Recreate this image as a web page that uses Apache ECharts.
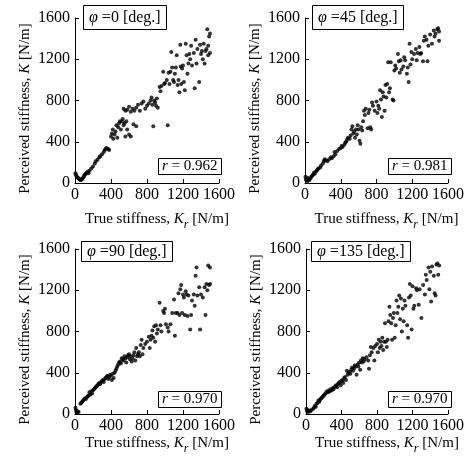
<!DOCTYPE html>
<html>
<head>
<meta charset="utf-8">
<script src="https://cdn.jsdelivr.net/npm/echarts@6/dist/echarts.min.js"></script>
<style>
  html, body { margin: 0; padding: 0; background: #fff; }
  #chart { width: 467px; height: 460px; }
</style>
</head>
<body>
<div id="chart"></div>
<script>
  // 散布図の元データ [True stiffness Kr, Perceived stiffness K]
  const phi0Points = [
    [5,95],[10,80],[15,70],[20,60],[30,50],[40,45],[45,38],[55,35],[60,30],[70,32],
    [80,38],[85,45],[95,55],[100,70],[110,80],[120,90],[130,100],[140,110],[150,95],[160,120],
    [180,140],[200,160],[220,190],[230,210],[250,225],[270,250],[280,260],[300,280],[320,300],[330,320],
    [340,330],[350,340],[370,330],[380,320],
    [400,450],[410,480],[420,520],[425,430],[440,470],[450,500],[460,560],[470,440],[480,540],[490,580],
    [500,600],[510,520],[520,600],[530,620],[540,560],[550,580],[560,450],[570,600],[580,520],[600,470],[620,450],
    [540,720],[560,700],[580,710],[600,740],[620,690],[640,720],[660,700],[680,730],[650,570],[680,550],
    [700,760],[720,700],[740,770],[760,790],[780,720],[800,750],[820,770],[840,800],[850,830],[860,760],
    [880,800],[890,780],[900,750],[910,820],[920,730],[870,550],[1030,560],
    [940,930],[950,890],[960,940],[980,1080],[990,960],[1000,970],[1020,1000],[1040,1070],[1050,960],[1060,1080],
    [1070,1270],[1080,1120],[1090,1000],[1100,980],
    [1110,1060],[1120,1120],[1130,1240],[1140,950],[1150,1000],[1160,880],[1170,1340],[1175,1130],[1180,960],[1190,1110],
    [1200,1140],[1210,980],[1220,900],[1230,1350],[1240,1240],[1250,1060],[1260,1160],[1270,1250],[1280,1200],[1290,1330],[1300,1140],
    [1320,1260],[1330,920],[1340,1390],[1350,1160],[1360,1300],[1380,980],[1390,1340],[1400,1250],[1410,1280],[1420,1200],
    [1430,1350],[1440,1160],[1450,1280],[1460,1300],[1470,1490],[1480,1240],[1490,1420],[1500,1450],[1500,1260],[1480,1330]
  ];

  const phi45Points = [
    [5,60],[10,40],[15,25],[25,50],[30,20],[40,35],[50,30],[60,45],[70,60],[80,70],
    [90,80],[100,100],[110,90],[120,110],[130,120],[140,130],[150,140],[170,150],[180,170],[200,190],
    [210,210],[220,230],[230,220],[250,210],[270,230],[290,250],[300,240],[320,260],[330,300],[340,280],
    [360,310],[380,330],[400,340],[410,360],[420,350],[440,370],[450,390],[460,400],[470,420],[480,440],
    [500,430],[510,460],[520,520],[530,550],[540,480],[550,500],[560,440],[570,520],[580,470],[590,560],
    [600,520],[610,410],[620,380],[630,540],[640,510],[650,600],[660,700],[670,660],[680,720],[700,530],
    [710,680],[720,710],[730,540],[740,520],[750,780],[760,750],[780,700],[800,790],[810,680],[820,750],
    [830,720],[840,900],[850,810],[860,640],[870,880],[880,840],[890,700],[900,950],[910,830],[920,960],
    [930,1170],[940,880],[950,920],[960,1170],[980,810],[990,800],[1000,1090],[1010,1140],[1020,1110],[1040,1250],
    [1050,1180],[1060,1070],[1070,1190],[1080,1100],[1100,1130],[1110,1220],[1120,1190],[1140,1060],[1150,1120],[1160,980],
    [1170,1350],[1180,1150],[1190,1270],[1200,1200],[1220,1250],[1240,1300],[1250,1190],[1260,1260],[1280,1320],[1290,1250],
    [1300,1260],[1320,1180],[1330,1380],[1340,1420],[1360,1390],[1370,1180],[1380,1330],[1400,1440],[1420,1350],[1440,1480],
    [1450,1420],[1460,1450],[1480,1490],[1490,1500],[1500,1380],[1500,1470]
  ];

  const phi90Points = [
    [5,60],[10,40],[15,20],[20,30],[25,10],[30,25],[40,20],
    [60,100],[70,110],[80,120],[90,130],[100,140],[110,150],[120,145],[130,160],[140,170],[150,180],
    [160,210],[170,190],[180,220],[190,200],[200,230],[210,240],[220,250],[230,260],[240,270],[250,280],
    [260,290],[270,300],[280,290],[290,310],[300,320],[310,330],[320,310],[330,340],[340,350],[350,360],
    [360,370],[370,340],[380,360],[390,380],[400,370],[410,330],[420,390],[430,350],[440,400],[450,420],
    [460,440],[470,460],[480,480],[490,500],[500,510],[510,490],[520,540],[530,530],[540,520],[550,560],
    [560,540],[570,500],[580,550],[590,570],[600,580],[610,530],[620,560],[630,510],[640,540],[650,570],
    [660,600],[670,520],[680,640],[690,560],[700,580],[710,600],[720,560],[730,670],[740,720],[750,580],
    [760,640],[780,680],[800,700],[820,750],[830,640],[840,720],[850,760],[860,810],[870,740],[880,850],
    [890,700],[900,860],[910,780],[920,820],[940,1080],[950,860],[960,800],[980,1000],[990,980],[1000,1020],
    [1010,870],[1030,840],[1040,800],[1060,870],[1080,980],[1100,1110],[1110,760],[1120,980],[1140,980],[1150,1170],
    [1160,960],[1170,1210],[1180,1250],[1190,980],[1200,1160],[1210,1130],[1220,960],[1230,1190],[1240,1160],[1250,950],
    [1260,1150],[1280,820],[1290,960],[1300,1100],[1320,1160],[1330,1050],[1340,1340],[1350,1420],[1360,1150],[1380,1230],
    [1390,820],[1400,1160],[1420,1130],[1440,1230],[1450,960],[1460,1260],[1470,1200],[1480,1440],[1490,1250],[1500,1420],[1500,1260]
  ];

  const phi135Points = [
    [5,50],[10,30],[15,40],[20,20],[30,35],[40,25],[50,30],[60,40],[80,50],[90,60],
    [100,80],[110,70],[120,100],[130,110],[140,130],[150,120],[160,140],[170,150],[180,160],[190,170],
    [200,180],[210,190],[220,200],[230,210],[240,220],[250,210],[260,230],[270,220],[280,240],[290,230],
    [300,250],[310,240],[320,260],[330,270],[340,280],[350,260],[360,290],[370,300],[380,310],[390,280],
    [400,320],[410,330],[420,300],[430,350],[440,360],[450,330],[460,420],[470,380],[480,400],[490,410],
    [500,390],[510,430],[520,450],[530,420],[540,440],[550,470],[560,460],[570,380],[580,480],[590,460],
    [600,500],[610,430],[620,520],[630,500],[640,540],[650,510],[660,530],[680,550],[700,520],[710,440],
    [720,570],[730,650],[740,600],[760,640],[770,520],[780,660],[800,680],[810,600],[820,720],[830,640],
    [840,700],[850,660],[860,740],[870,620],[880,700],[890,880],[900,700],[910,650],[920,720],[930,900],
    [940,1040],[950,960],[960,880],[970,720],[980,930],[990,980],[1000,740],[1010,860],[1020,1100],[1030,980],
    [1040,1040],[1050,1150],[1060,920],[1070,1120],[1080,800],[1090,1020],[1100,900],[1110,1100],[1120,1050],[1140,860],
    [1150,740],[1160,1130],[1170,1260],[1180,1150],[1190,820],[1200,1240],[1210,1020],[1220,1050],[1240,1220],[1250,1200],
    [1270,1060],[1280,1210],[1300,930],[1320,1250],[1340,1160],[1350,1350],[1360,1300],[1380,1420],[1390,1210],[1400,1380],
    [1410,1090],[1420,1430],[1440,1340],[1450,1170],[1460,1150],[1470,1450],[1480,1460],[1490,1350],[1500,1440]
  ];

  const panelAngles = ['0', '45', '90', '135'];
  const panelR = ['0.962', '0.981', '0.970', '0.970'];
  const panelData = [phi0Points, phi45Points, phi90Points, phi135Points];

  // 各パネルの配置
  const grids = [
    { left: 75, top: 18, width: 144, height: 165 },
    { left: 305, top: 18, width: 144, height: 165 },
    { left: 75, top: 249, width: 144, height: 165 },
    { left: 306, top: 249, width: 144, height: 165 },
  ];
  const phiBoxPos = [[83, 5], [312, 5], [81, 241], [311, 241]];
  const rBoxPos = [[158, 158], [388, 158], [158, 391], [388, 391]];

  const serif = "'Liberation Serif', 'DejaVu Serif', serif";
  const baseText = { fontFamily: serif, fontSize: 15, color: '#000' };

  const chart = echarts.init(document.getElementById('chart'));

  const axisCommon = {
    type: 'value',
    min: 0,
    max: 1600,
    interval: 400,
    axisLine: { show: true, lineStyle: { color: '#000', width: 1 } },
    axisTick: { show: true, inside: true, length: 4, lineStyle: { color: '#000' } },
    splitLine: { show: false },
    nameLocation: 'middle',
  };

  const plainNumber = (v) => String(v);

  const option = {
    backgroundColor: '#fff',
    animation: false,
    grid: grids,
    xAxis: grids.map((g, i) => ({
      ...axisCommon,
      gridIndex: i,
      axisLabel: { ...baseText, fontSize: 16, margin: 4, formatter: plainNumber },
      name: 'True stiffness, {i|K}{sub|r} [N/m]',
      nameGap: i < 2 ? 24 : 17,
      nameTextStyle: {
        ...baseText,
        padding: [0, 0, 0, 20],
        rich: {
          i: { ...baseText, fontStyle: 'italic' },
          sub: { ...baseText, fontSize: 12, fontStyle: 'italic', padding: [12, 0, 0, 0] },
        },
      },
    })),
    yAxis: grids.map((g, i) => ({
      ...axisCommon,
      gridIndex: i,
      axisLabel: { ...baseText, fontSize: 16, margin: 5, formatter: plainNumber },
      name: 'Perceived stiffness, {i|K} [N/m]',
      nameGap: 42,
      nameRotate: 90,
      nameTextStyle: {
        ...baseText,
        padding: [0, 16, 0, 0],
        rich: { i: { ...baseText, fontStyle: 'italic' } },
      },
    })),
    title: [
      ...panelAngles.map((a, i) => ({
        left: phiBoxPos[i][0],
        top: phiBoxPos[i][1],
        text: '{i|φ} =' + a + ' [deg.]',
        borderColor: '#000',
        borderWidth: 1,
        padding: i < 2 ? [5, 6, 4, 6] : [3, 6, 2, 6],
        backgroundColor: '#fff',
        textStyle: {
          ...baseText,
          fontSize: 16,
          fontWeight: 'normal',
          rich: { i: { ...baseText, fontSize: 16, fontStyle: 'italic' } },
        },
      })),
      ...panelR.map((r, i) => ({
        left: rBoxPos[i][0],
        top: rBoxPos[i][1],
        text: '{i|r} = ' + r,
        borderColor: '#000',
        borderWidth: 1,
        padding: [1, 4, 1, 4],
        backgroundColor: '#fff',
        textStyle: {
          ...baseText,
          fontWeight: 'normal',
          rich: { i: { ...baseText, fontStyle: 'italic' } },
        },
      })),
    ],
    series: panelData.map((pts, i) => ({
      type: 'scatter',
      xAxisIndex: i,
      yAxisIndex: i,
      data: pts,
      symbol: 'circle',
      symbolSize: 4,
      itemStyle: { color: '#000' },
    })),
  };

  chart.setOption(option);
</script>
</body>
</html>
